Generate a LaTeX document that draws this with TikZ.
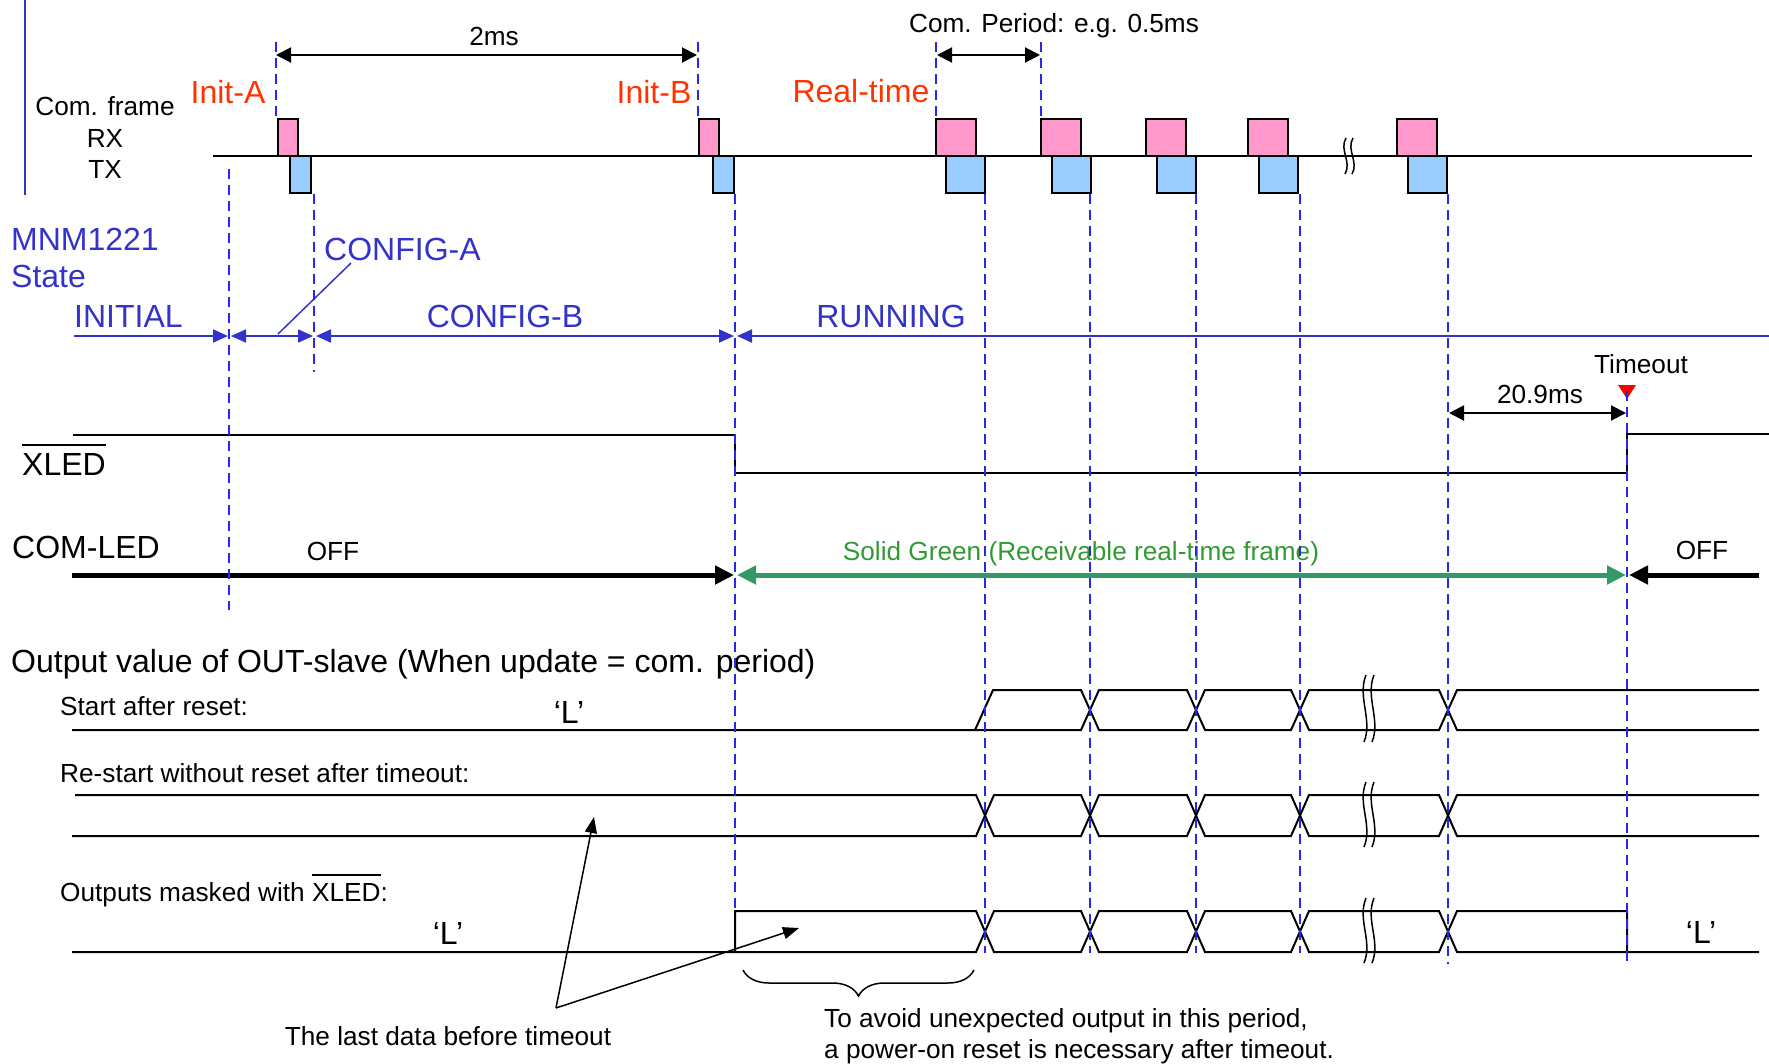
\documentclass[tikz,border=0pt]{standalone}
\usepackage{fontspec}
\setmainfont{Liberation Sans}
\usetikzlibrary{arrows.meta,decorations.pathreplacing}

\definecolor{redtxt}{RGB}{255,51,0}
\definecolor{stblue}{RGB}{51,51,204}
\definecolor{dashblue}{RGB}{40,40,230}
\definecolor{grntxt}{RGB}{51,153,51}
\definecolor{grnarr}{RGB}{51,153,102}
\definecolor{rxpink}{RGB}{255,153,204}
\definecolor{txblue}{RGB}{153,204,255}

\newcommand\ovl[1]{\vbox{\hrule height 1.8pt\kern 7pt\hbox{#1}}}

\tikzset{
  sttip/.tip={Triangle[length=15pt,width=13pt]},
  ledtip/.tip={Triangle[length=19pt,width=18pt]},
  dimtip/.tip={Triangle[length=15pt,width=15pt]},
  annotip/.tip={Triangle[length=16pt,width=12pt]},
  big/.style={font=\fontsize{32}{36}\selectfont, inner sep=0pt},
  small/.style={font=\fontsize{26.2}{30}\selectfont, inner sep=0pt},
  dline/.style={dashblue, line width=1.5pt, dash pattern=on 10pt off 6pt},
  sig/.style={black, line width=2pt, line join=miter},
  rx/.style={draw=black, line width=1.8pt, fill=rxpink},
  tx/.style={draw=black, line width=1.8pt, fill=txblue},
  dimarr/.style={black, line width=2pt, {dimtip}-{dimtip}},
  stline/.style={stblue, line width=2pt},
  brk/.style={black, line width=1.5pt},
}

\begin{document}
\begin{tikzpicture}[x=1pt,y=-1pt]
\useasboundingbox (0,0) rectangle (1769,1063);

% ---------- left vertical bar ----------
\draw[stblue, line width=2pt] (25,0) -- (25,195);

% ---------- communication frame line ----------
\coordinate (fl0) at (213,156);
\coordinate (fl1) at (1752,156);
\draw[sig] (fl0) -- (fl1);

% RX / TX boxes
\draw[rx] (278,119) rectangle (298,156);
\draw[tx] (290,156) rectangle (311,193);
\draw[rx] (699,119) rectangle (719,156);
\draw[tx] (713,156) rectangle (734,193);
\foreach \a/\b in {936/946,1041/1052,1146/1157,1248/1259,1397/1408}{
  \draw[rx] (\a,119) rectangle ++(40,37);
  \draw[tx] (\b,156) rectangle ++(39,37);
}
% break on frame line
\draw[brk] (1346,138) .. controls (1339,150) and (1352,162) .. (1345,174);
\draw[brk] (1353,138) .. controls (1346,150) and (1359,162) .. (1352,174);

% ---------- labels top ----------
\node[small, anchor=base] (comframe) at (105,115) {Com. frame};
\node[small, anchor=base] (rxl) at (105,147) {RX};
\node[small, anchor=base] (txl) at (105,178) {TX};
\node[big, anchor=base, text=redtxt] (inita) at (228,103) {Init-A};
\node[big, anchor=base, text=redtxt] (initb) at (654,103) {Init-B};
\node[big, anchor=base, text=redtxt] (realtime) at (861,102) {Real-time};
\node[small, anchor=base] (twoms) at (494,45) {2ms};
\node[small, anchor=base] (comper) at (1054,32) {Com. Period: e.g. 0.5ms};

% dimension arrows
\coordinate (t2a) at (276,55);
\coordinate (t2b) at (697,55);
\draw[dimarr] (t2a) -- (t2b);
\coordinate (cpa) at (937,55);
\coordinate (cpb) at (1040,55);
\draw[dimarr] (cpa) -- (cpb);

% ---------- state ----------
\node[big, anchor=base west, text=stblue] (mnm) at (11,250) {MNM1221};
\node[big, anchor=base west, text=stblue] (state) at (11,287) {State};
\node[big, anchor=base west, text=stblue] (cfga) at (324,260) {CONFIG-A};
\node[big, anchor=base west, text=stblue] (initial) at (74,327) {INITIAL};
\node[big, anchor=base, text=stblue] (cfgb) at (505,327) {CONFIG-B};
\node[big, anchor=base, text=stblue] (running) at (891,327) {RUNNING};

\coordinate (s0) at (74,336);
\coordinate (s1) at (228,336);
\coordinate (s1b) at (231,336);
\coordinate (s2) at (313,336);
\coordinate (s2b) at (316,336);
\coordinate (s3) at (734,336);
\coordinate (s3b) at (737,336);
\coordinate (s4) at (1769,336);
\draw[stline, -{sttip}] (s0) -- (s1);
\draw[stline, {sttip}-{sttip}] (s1b) -- (s2);
\draw[stline, {sttip}-{sttip}] (s2b) -- (s3);
\draw[stline, {sttip}-] (s3b) -- (s4);
\coordinate (lead0) at (278,334);
\coordinate (lead1) at (351,263);
\draw[stblue, line width=1.5pt] (lead0) -- (lead1);

% ---------- timeout ----------
\node[small, anchor=base] (timeout) at (1641,373) {Timeout};
\fill[red] (1618,385) -- (1636,385) -- (1627,399) -- cycle;
\node[small, anchor=base] (t209) at (1540,403) {20.9ms};
\coordinate (ta) at (1449,413);
\coordinate (tb) at (1626,413);
\draw[dimarr] (ta) -- (tb);

% ---------- XLED ----------
\node[big, anchor=base west] (xled) at (22,475) {\ovl{XLED}};
\draw[sig] (73,435) -- (735,435) -- (735,473) -- (1627,473) -- (1627,434) -- (1769,434);

% ---------- COM-LED ----------
\node[big, anchor=base west] (comled) at (12,558) {COM-LED};
\node[small, anchor=base] (offl) at (333,560) {OFF};
\node[small, anchor=base] (offr) at (1702,559) {OFF};
\node[small, anchor=base, text=grntxt] (solid) at (1081,560) {Solid Green (Receivable real-time frame)};
\coordinate (l0) at (72,575);
\coordinate (l1) at (734,575);
\coordinate (l2) at (737,575);
\coordinate (l3) at (1626,575);
\coordinate (l4) at (1629,575);
\coordinate (l5) at (1759,575);
\draw[line width=5pt, -{ledtip}] (l0) -- (l1);
\draw[grnarr, line width=5pt, {ledtip}-{ledtip}] (l2) -- (l3);
\draw[line width=5pt, -{ledtip}] (l5) -- (l4);

% ---------- outputs ----------
\node[big, anchor=base west] (title) at (11,672) {Output value of OUT-slave (When update = com. period)};
\node[small, anchor=base west] (r1l) at (60,715) {Start after reset:};
\node[big, anchor=base] (r1L) at (569,723) {‘L’};
\node[small, anchor=base west] (r2l) at (60,782) {Re-start without reset after timeout:};
\node[small, anchor=base west] (r3l) at (60,901) {Outputs masked with \ovl{XLED}:};
\node[big, anchor=base] (r3L) at (448,944) {‘L’};
\node[big, anchor=base] (r3R) at (1701,943) {‘L’};

% row 1
\draw[sig] (72,730) -- (1081,730) -- (1099,690) -- (1187,690) -- (1205,730) -- (1291,730) -- (1309,690) -- (1439,690) -- (1457,730) -- (1759,730);
\draw[sig] (975,730) -- (993,690) -- (1081,690) -- (1099,730) -- (1187,730) -- (1205,690) -- (1291,690) -- (1309,730) -- (1439,730) -- (1457,690) -- (1759,690);
% row 2
\draw[sig] (75,795) -- (976,795) -- (994,836) -- (1081,836) -- (1099,795) -- (1187,795) -- (1205,836) -- (1291,836) -- (1309,795) -- (1439,795) -- (1457,836) -- (1759,836);
\draw[sig] (72,836) -- (976,836) -- (994,795) -- (1081,795) -- (1099,836) -- (1187,836) -- (1205,795) -- (1291,795) -- (1309,836) -- (1439,836) -- (1457,795) -- (1759,795);
% row 3
\draw[sig] (72,952) -- (976,952) -- (994,911) -- (1081,911) -- (1099,952) -- (1187,952) -- (1205,911) -- (1291,911) -- (1309,952) -- (1439,952) -- (1457,911) -- (1627,911) -- (1627,952);
\draw[sig] (735,952) -- (735,911) -- (976,911) -- (994,952) -- (1081,952) -- (1099,911) -- (1187,911) -- (1205,952) -- (1291,952) -- (1309,911) -- (1439,911) -- (1457,952) -- (1759,952);

% breaks
\foreach \ya/\yb in {675/742,782/847,898/963}{
  \draw[brk] (1366,\ya) .. controls (1357,{\ya+22}) and (1373,{\yb-22}) .. (1364,\yb);
  \draw[brk] (1374,\ya) .. controls (1365,{\ya+22}) and (1381,{\yb-22}) .. (1372,\yb);
}

% annotation arrows
\node[small, anchor=base] (lastdata) at (448,1045) {The last data before timeout};
\coordinate (v) at (556,1008);
\coordinate (va) at (594,817);
\coordinate (vb) at (799,928);
\draw[line width=1.5pt, -{annotip}] (v) -- (va);
\draw[line width=1.5pt, -{annotip}] (v) -- (vb);

% brace
\coordinate (bra) at (743,970);
\coordinate (brb) at (974,970);
\draw[line width=1.5pt, decorate, decoration={brace, mirror, amplitude=26pt}] (bra) -- (brb);
\node[small, anchor=base west] (note1) at (824,1027) {To avoid unexpected output in this period,};
\node[small, anchor=base west] (note2) at (824,1058) {a power-on reset is necessary after timeout.};

% ---------- dashed guide lines ----------
\draw[dline] (229,169) -- (229,610);
\draw[dline] (314,194) -- (314,372);
\draw[dline] (735,194) -- (735,910);
\draw[dline] (276,42) -- (276,118);
\draw[dline] (698,42) -- (698,118);
\draw[dline] (936,42) -- (936,118);
\draw[dline] (1041,42) -- (1041,118);
\foreach \x in {985,1090,1196,1300}{
  \draw[dline] (\x,194) -- (\x,953);
}
\draw[dline] (1448,194) -- (1448,964);
\draw[dline] (1627,391) -- (1627,964);
\end{tikzpicture}
\end{document}
